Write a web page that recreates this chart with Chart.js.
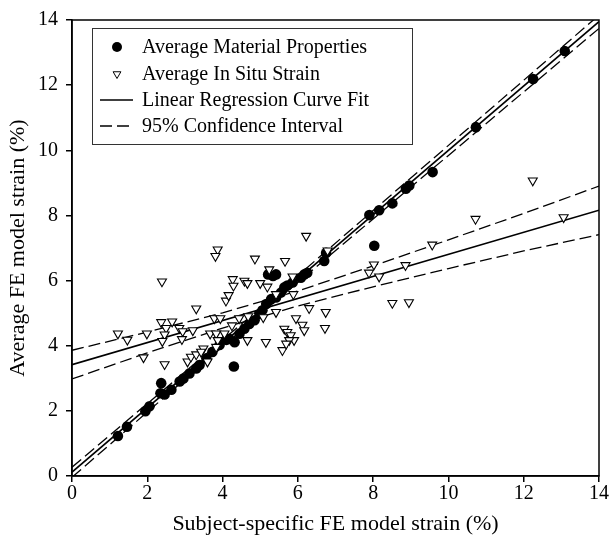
<!DOCTYPE html>
<html><head><meta charset="utf-8">
<script src="https://cdn.jsdelivr.net/npm/chart.js@4.4.0/dist/chart.umd.min.js"></script>
<style>html,body{margin:0;padding:0;background:#fff}#wrap{width:609px;height:544px}</style>
</head><body><div id="wrap"><canvas id="c" width="609" height="544"></canvas></div>
<script>
// ---- data ----
const materialX = [1.22,1.46,1.95,2.06,2.37,2.35,2.46,2.64,2.86,2.96,3.12,3.30,3.39,3.57,3.73,3.92,4.10,4.30,4.18,4.32,4.45,4.58,4.71,4.85,4.98,5.06,5.16,5.29,5.42,5.55,5.64,5.72,5.86,6.08,6.17,6.25,5.21,5.34,5.42,6.70,6.75,7.90,8.03,8.16,8.51,8.87,8.96,9.58,10.73,12.25,13.09];
const materialY = [1.23,1.51,1.99,2.14,2.85,2.54,2.50,2.65,2.90,2.99,3.15,3.30,3.41,3.61,3.81,4.02,4.18,3.36,4.21,4.11,4.37,4.52,4.67,4.78,4.97,5.09,5.28,5.43,5.48,5.63,5.79,5.85,5.94,6.09,6.19,6.24,6.19,6.14,6.19,6.60,6.85,8.01,7.07,8.16,8.37,8.82,8.92,9.33,10.71,12.19,13.05];
const inSituX = [1.22,1.47,1.99,1.90,2.39,2.37,2.66,2.50,2.46,2.40,2.46,2.85,2.94,2.92,3.21,3.30,3.07,3.16,3.30,3.49,3.60,3.67,3.83,4.05,3.87,3.83,3.43,3.78,3.94,3.87,3.81,4.09,4.16,4.27,4.29,4.25,4.44,4.58,4.66,4.66,4.68,4.86,5.00,5.08,5.15,5.19,5.24,5.42,5.42,5.66,5.86,5.88,5.64,5.72,5.81,5.90,5.77,5.59,5.69,5.95,6.12,6.17,6.30,6.74,6.72,6.22,6.79,7.89,8.02,8.16,8.86,9.57,10.72,12.24,13.06,8.51,8.95];
const inSituY = [4.37,4.18,4.37,3.64,5.97,4.72,4.74,4.54,4.34,4.14,3.43,4.54,4.44,4.20,4.47,5.14,3.51,3.66,3.73,3.91,3.51,4.37,4.37,4.37,4.17,3.96,3.81,4.84,4.84,6.95,6.75,5.38,5.55,6.04,5.84,4.62,4.84,5.99,5.92,4.17,4.90,6.67,5.92,4.87,4.11,5.81,6.34,5.58,5.03,6.60,6.12,5.58,4.52,4.42,4.32,4.17,4.17,3.86,4.06,4.84,4.64,4.47,5.15,5.03,4.54,7.37,6.92,6.24,6.49,6.12,6.47,7.10,7.89,9.07,7.94,5.31,5.33];
const fitX = [0, 14];
const materialFitY = [0.12, 13.95];
const materialCiX = [0, 5, 14];
const materialUpperY = [0.27, 5.15, 14.15];
const materialLowerY = [-0.04, 4.97, 13.74];
const inSituFitY = [3.42, 8.16];
const inSituCiX = [0, 2, 4, 6, 8, 10, 12, 14];
const inSituUpperY = [3.86, 4.42, 5.01, 5.68, 6.45, 7.25, 8.06, 8.90];
const inSituLowerY = [2.98, 3.78, 4.54, 5.22, 5.81, 6.37, 6.91, 7.41];
const axisTicks = [0, 2, 4, 6, 8, 10, 12, 14];
const legendLabels = ['Average Material Properties', 'Average In Situ Strain', 'Linear Regression Curve Fit', '95% Confidence Interval'];
const xTitle = 'Subject-specific FE model strain (%)';
const yTitle = 'Average FE model strain (%)';

const FONT = "'Liberation Serif', 'Times New Roman', serif";
const pts = (xs, ys) => xs.map((x, i) => ({x, y: ys[i]}));
const DASH = [12, 5];

const lineDs = (data, dashed) => ({
  data, showLine: true, pointRadius: 0, borderColor: '#000', borderWidth: dashed ? 1.3 : 1.7,
  borderDash: dashed ? DASH : [], fill: false, tension: 0
});

const datasets = [
  { label: legendLabels[1], data: pts(inSituX, inSituY), pointStyle: 'triangle', rotation: 180,
    pointRadius: 5.2, backgroundColor: '#fff', borderColor: '#000', borderWidth: 1.1 },
  { label: legendLabels[0], data: pts(materialX, materialY), pointStyle: 'circle',
    pointRadius: 5.3, backgroundColor: '#000', borderColor: '#000', borderWidth: 0 },
  lineDs(pts(fitX, materialFitY), false),
  lineDs(pts(materialCiX, materialUpperY), true),
  lineDs(pts(materialCiX, materialLowerY), true),
  lineDs(pts(fitX, inSituFitY), false),
  lineDs(pts(inSituCiX, inSituUpperY), true),
  lineDs(pts(inSituCiX, inSituLowerY), true)
];

const frame = {
  id: 'frame',
  afterDatasetsDraw(chart) {
    const {ctx, chartArea: a} = chart;
    ctx.save();
    ctx.strokeStyle = '#000'; ctx.lineWidth = 1.5;
    ctx.strokeRect(a.left, a.top, a.right - a.left, a.bottom - a.top);
    // legend box
    const bx = 92, by = 28, bw = 320, bh = 116;
    ctx.fillStyle = '#fff';
    ctx.fillRect(bx, by, bw, bh);
    ctx.lineWidth = 1; ctx.strokeStyle = '#333';
    ctx.strokeRect(bx + 0.5, by + 0.5, bw, bh);
    const rows = [47, 74, 100, 126];
    const mx = 117;
    ctx.fillStyle = '#000'; ctx.strokeStyle = '#000';
    ctx.beginPath(); ctx.arc(mx, rows[0], 5, 0, Math.PI * 2); ctx.fill();
    const r = 4.5, y1 = rows[1];
    ctx.beginPath();
    ctx.moveTo(mx - r * 0.866, y1 - r * 0.5);
    ctx.lineTo(mx + r * 0.866, y1 - r * 0.5);
    ctx.lineTo(mx, y1 + r);
    ctx.closePath(); ctx.fillStyle = '#fff'; ctx.fill(); ctx.lineWidth = 1; ctx.stroke();
    ctx.lineWidth = 1.6;
    ctx.beginPath(); ctx.moveTo(100, rows[2]); ctx.lineTo(133, rows[2]); ctx.stroke();
    ctx.lineWidth = 1.3;
    ctx.setLineDash(DASH);
    ctx.beginPath(); ctx.moveTo(100, rows[3]); ctx.lineTo(133, rows[3]); ctx.stroke();
    ctx.setLineDash([]);
    ctx.fillStyle = '#000';
    ctx.font = "20px " + FONT;
    ctx.textBaseline = 'middle'; ctx.textAlign = 'left';
    legendLabels.forEach((t, i) => ctx.fillText(t, 142, rows[i] + 1));
    ctx.restore();
  }
};

const tickFont = {family: FONT, size: 20};
const titleFont = {family: FONT, size: 22};

new Chart(document.getElementById('c'), {
  type: 'scatter',
  data: { datasets },
  plugins: [frame],
  options: {
    responsive: false, animation: false, devicePixelRatio: 1,
    layout: { padding: { left: 0, right: 9, top: 15, bottom: 0 } },
    plugins: { legend: { display: false }, tooltip: { enabled: false } },
    scales: {
      x: {
        type: 'linear', min: 0, max: 14,
        afterBuildTicks: s => { s.ticks = axisTicks.map(v => ({value: v})); },
        afterFit: s => { s.height = 68; },
        ticks: { color: '#000', font: tickFont, padding: 0, maxRotation: 0 },
        grid: { drawOnChartArea: false, drawTicks: true, tickLength: 6, color: '#000', lineWidth: 1.5 },
        border: { display: true, color: '#000', width: 1.5 },
        title: { display: true, text: xTitle, color: '#000', font: titleFont, padding: { top: 0, bottom: 7 } }
      },
      y: {
        type: 'linear', min: 0, max: 14,
        afterBuildTicks: s => { s.ticks = axisTicks.map(v => ({value: v})); },
        afterFit: s => { s.width = 72; },
        ticks: { color: '#000', font: tickFont, padding: 8 },
        grid: { drawOnChartArea: false, drawTicks: true, tickLength: 6, color: '#000', lineWidth: 1.5 },
        border: { display: true, color: '#000', width: 1.5 },
        title: { display: true, text: yTitle, color: '#000', font: titleFont, padding: { top: 5, bottom: 0 } }
      }
    }
  }
});
</script>
</body></html>
